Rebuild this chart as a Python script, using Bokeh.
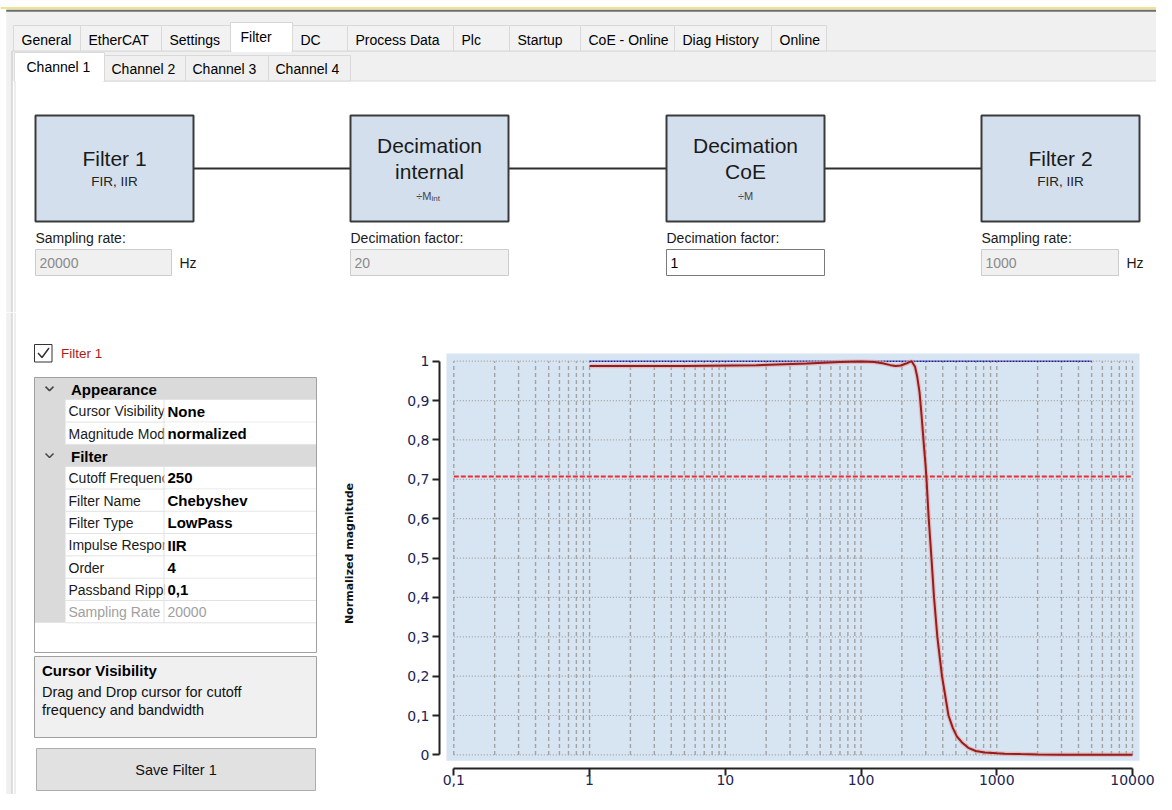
from bokeh.plotting import figure
from bokeh.models import Range1d, FixedTicker
from bokeh.layouts import column, row
from bokeh.core.properties import value
from bokeh.embed import file_html
from bokeh.resources import INLINE

# ---------------- data ----------------
main_tabs = ["General", "EtherCAT", "Settings", "Filter", "DC", "Process Data",
             "Plc", "Startup", "CoE - Online", "Diag History", "Online"]
selected_main_tab = "Filter"
channel_tabs = ["Channel 1", "Channel 2", "Channel 3", "Channel 4"]
selected_channel = "Channel 1"

block_titles = [["Filter 1"], ["Decimation", "internal"], ["Decimation", "CoE"], ["Filter 2"]]
block_subtitles = ["FIR, IIR", "÷M", "÷M", "FIR, IIR"]
block_subscripts = ["", "int", "", ""]
field_labels = ["Sampling rate:", "Decimation factor:", "Decimation factor:", "Sampling rate:"]
field_values = ["20000", "20", "1", "1000"]
field_units = ["Hz", "", "", "Hz"]
field_editable = [False, False, True, False]

filter_checkbox_label = "Filter 1"
grid_names = ["Appearance", "Cursor Visibility", "Magnitude Mode", "Filter", "Cutoff Frequency",
              "Filter Name", "Filter Type", "Impulse Response", "Order", "Passband Ripple",
              "Sampling Rate"]
grid_values = [None, "None", "normalized", None, "250", "Chebyshev", "LowPass", "IIR", "4",
               "0,1", "20000"]
grid_readonly = [False, False, False, False, False, False, False, False, False, False, True]
desc_title = "Cursor Visibility"
desc_lines = ["Drag and Drop cursor for cutoff", "frequency and bandwidth"]
button_label = "Save Filter 1"

x_ticks = [0.1, 1, 10, 100, 1000, 10000]
x_tick_labels = ["0,1", "1", "10", "100", "1000", "10000"]
y_ticks = [0.0, 0.1, 0.2, 0.3, 0.4, 0.5, 0.6, 0.7, 0.8, 0.9, 1.0]
y_tick_labels = ["0", "0,1", "0,2", "0,3", "0,4", "0,5", "0,6", "0,7", "0,8", "0,9", "1"]
y_label = "Normalized magnitude"

freq_hz = [1, 5, 17, 40, 70, 100, 125, 144, 165, 180, 196, 215, 236, 250, 259, 270, 279,
           290, 298, 303, 315, 330, 345, 365, 395, 441, 475, 508, 560, 617, 700, 817, 1000,
           1143, 1500, 2000, 3000, 5000, 10000]
magnitude = [0.988, 0.988, 0.990, 0.994, 0.998, 0.999, 0.998, 0.995, 0.990, 0.988, 0.989,
             0.994, 1.000, 0.986, 0.962, 0.920, 0.864, 0.790, 0.741, 0.707, 0.602, 0.502,
             0.400, 0.300, 0.200, 0.100, 0.068, 0.047, 0.030, 0.018, 0.010, 0.006, 0.004,
             0.003, 0.002, 0.001, 0.0005, 0.0002, 0.0001]
cutoff_level = 0.707
cutoff_span = [0.1, 10000]
unity_level = 1.0
unity_span = [1, 5000]

# ---------------- layout / style ----------------
UI = "Liberation Sans"
CH = "DejaVu Sans"
W, H = 1156, 794
TOP_H = 312
LEFT_W = 322
main_tab_edges = [13, 80, 161, 230, 292, 347, 453, 509, 580, 674, 771, 826]
channel_tab_edges = [14, 104, 185, 268, 350]
block_left = [35, 350, 666, 981]
block_w = 158
input_w = [136, 158, 158, 137]


def canvas(w, h, x0, y0):
    p = figure(width=w, height=h, x_range=Range1d(x0, x0 + w), y_range=Range1d(y0 + h, y0),
               output_backend="svg", toolbar_location=None,
               x_axis_location=None, y_axis_location=None)
    p.min_border_left = p.min_border_right = p.min_border_top = p.min_border_bottom = 0
    p.grid.visible = False
    p.outline_line_color = None
    p.background_fill_color = "white"
    p.border_fill_color = "white"
    return p


def txt(p, x, y, s, size, color="#000000", align="left", style="normal", font=UI):
    p.text(x=[x], y=[y], text=[s], text_font=value(font), text_font_size=f"{size}px",
           text_color=color, text_align=align, text_baseline="middle",
           text_font_style=style)


def box(p, l, r, t, b, fill, line=None, lw=1):
    p.quad(left=[l], right=[r], top=[t], bottom=[b], fill_color=fill,
           line_color=line, line_width=lw)


def seg(p, x0, y0, x1, y1, color, lw=1):
    p.segment(x0=[x0], y0=[y0], x1=[x1], y1=[y1], line_color=color, line_width=lw)


# ================= top area =================
top = canvas(W, TOP_H, 0, 0)
box(top, 0, W, 0, TOP_H, "#F0F0F0")
box(top, 0, W, 0, 6.5, "white")
box(top, 0, 5.7, 0, TOP_H, "white")
seg(top, 0, 7.5, W, 7.5, "#F1E28E", 2)
seg(top, 5.7, 10.2, W, 10.2, "#6E6E6E", 2)
seg(top, 11.5, 50.5, W, 50.5, "#D6D6D6")

for i, name in enumerate(main_tabs):
    l, r = main_tab_edges[i], main_tab_edges[i + 1]
    if name == selected_main_tab:
        box(top, l, r, 22, 51, "white", "#D6D6D6")
        seg(top, l + 1, 50.5, r - 1, 50.5, "white", 2)
        txt(top, l + 10, 36, name, 14)
    else:
        box(top, l, r, 25, 50.5, "#F2F2F2", "#D9D9D9")
        txt(top, l + 8, 39, name, 14)

# channel tab page
box(top, 12, W, 80.5, TOP_H, "white")
seg(top, 11.5, 50.5, 11.5, TOP_H, "#C4C4C4")
seg(top, 14.5, 80.5, 14.5, TOP_H, "#DCDCDC")
seg(top, 104, 80.5, W, 80.5, "#DCDCDC")
for i, name in enumerate(channel_tabs):
    l, r = channel_tab_edges[i], channel_tab_edges[i + 1]
    if name == selected_channel:
        box(top, l, r, 52, 81, "white", "#DCDCDC")
        seg(top, l + 1, 80.5, r - 1, 80.5, "white", 2)
        txt(top, l + 12, 66, name, 14)
    else:
        box(top, l, r, 55, 80.5, "#F0F0F0", "#D9D9D9")
        txt(top, l + 7, 68, name, 14)

# connecting lines
for i in range(3):
    seg(top, block_left[i] + block_w, 168, block_left[i + 1], 168, "#2E2E2E", 2)

for i in range(4):
    l = block_left[i]
    cx = l + block_w / 2
    box(top, l, l + block_w, 115, 221, "#D3DFED", "#3A3A3A", 2)
    lines = block_titles[i]
    if len(lines) == 1:
        txt(top, cx, 158, lines[0], 21, "#1A1A1A", "center")
        txt(top, cx, 181, block_subtitles[i], 13.5, "#222222", "center")
    else:
        txt(top, cx, 145, lines[0], 21, "#1A1A1A", "center")
        txt(top, cx, 171, lines[1], 21, "#1A1A1A", "center")
        if block_subscripts[i]:
            txt(top, cx + 2, 195, block_subtitles[i], 11, "#444444", "right")
            txt(top, cx + 2, 198, block_subscripts[i], 8, "#444444", "left")
        else:
            txt(top, cx, 195, block_subtitles[i], 11, "#444444", "center")
    # field
    txt(top, l, 237, field_labels[i], 14, "#1A1A1A")
    if field_editable[i]:
        box(top, l, l + input_w[i], 249, 275, "white", "#7A7A7A")
        txt(top, l + 4, 262.5, field_values[i], 14, "#000000")
    else:
        box(top, l, l + input_w[i], 249, 275, "#F0F0F0", "#CCCCCC")
        txt(top, l + 4, 262.5, field_values[i], 14, "#8A8A8A")
    if field_units[i]:
        txt(top, l + input_w[i] + 8, 262.5, field_units[i], 14, "#1A1A1A")

# ================= left panel =================
LOW_H = H - TOP_H
left = canvas(LEFT_W, LOW_H, 0, TOP_H)
box(left, 5.7, 11.5, TOP_H, H, "#F0F0F0")
seg(left, 11.5, TOP_H, 11.5, H, "#C4C4C4")
seg(left, 14.5, TOP_H, 14.5, H, "#DCDCDC")

# checkbox
box(left, 34, 51.5, 344, 361.5, "white", "#333333")
left.line(x=[37.5, 41.5, 48.5], y=[352.5, 357, 347.5], line_color="#333333", line_width=1.5)
txt(left, 60.5, 353, filter_checkbox_label, 13.5, "#B01818")

# property grid
g_l, g_r, g_t, g_b = 34, 316, 377, 652
name_l, sep_x = 65, 163.5
rh = 22.3
box(left, g_l, g_r, g_t, g_b, "white", "#A0A0A0")
n_rows = len(grid_names)
box(left, g_l + 0.5, name_l, g_t + 0.5, g_t + n_rows * rh, "#DADADA")
for k in range(n_rows):
    t = g_t + k * rh
    b = t + rh
    cy = t + rh / 2
    if grid_values[k] is None:
        box(left, g_l + 0.5, g_r - 0.5, t + 0.5, b, "#DADADA")
        left.line(x=[45, 49, 53], y=[cy - 2, cy + 2, cy - 2], line_color="#444444", line_width=1.5)
        txt(left, 70.5, cy + 0.5, grid_names[k], 15, "#000000", style="bold")
    else:
        col = "#A0A0A0" if grid_readonly[k] else "#1A1A1A"
        txt(left, 68, cy + 0.5, grid_names[k], 14, col)
        box(left, sep_x + 0.5, g_r - 0.5, t + 0.5, b - 0.5, "white")
        vcol = "#A0A0A0" if grid_readonly[k] else "#000000"
        vstyle = "normal" if grid_readonly[k] else "bold"
        txt(left, 167, cy + 0.5, grid_values[k], 15 if not grid_readonly[k] else 14, vcol, style=vstyle)
        seg(left, name_l, b, g_r - 0.5, b, "#E2E2E2")
        seg(left, sep_x, t, sep_x, b, "#E2E2E2")

# description box
box(left, 34, 316, 656, 737, "#F0F0F0", "#A0A0A0")
txt(left, 41.5, 670, desc_title, 15, "#000000", style="bold")
txt(left, 41.5, 691, desc_lines[0], 14.5, "#111111")
txt(left, 41.5, 709, desc_lines[1], 14.5, "#111111")

# button
box(left, 36, 315, 748, 790, "#E1E1E1", "#ADADAD")
txt(left, 175.5, 769.5, button_label, 14.5, "#111111", "center")

# ================= chart =================
CHART_W = W - LEFT_W
chart = figure(width=CHART_W, height=LOW_H, x_axis_type="log",
               x_range=Range1d(0.078448, 15025), y_range=Range1d(-0.1006, 1.1237),
               output_backend="svg", toolbar_location=None)
chart.min_border_left = 439 - LEFT_W
chart.min_border_right = 0
chart.min_border_top = 0
chart.min_border_bottom = 0
chart.grid.visible = False
chart.outline_line_color = None
chart.background_fill_color = "white"
chart.border_fill_color = "white"

chart.quad(left=[0.08834], right=[11261], bottom=[-0.0147], top=[1.0196],
           fill_color="#D7E4F1", line_color=None)

vgrid = [m * 10.0 ** k for k in range(-1, 4) for m in range(1, 10)] + [10000.0]
chart.segment(x0=vgrid, y0=[0] * len(vgrid), x1=vgrid, y1=[1] * len(vgrid),
              line_color="#A3A3A3", line_dash="4 3", line_width=1.4)
chart.segment(x0=[0.1] * len(y_ticks), y0=y_ticks, x1=[10000] * len(y_ticks), y1=y_ticks,
              line_color="#A3A3A3", line_dash="1 2", line_width=1.2)

chart.line(x=cutoff_span, y=[cutoff_level] * 2, line_color="#EC2C38", line_dash="5 2",
           line_width=2)
chart.line(x=unity_span, y=[unity_level] * 2, line_color="#1A1A99", line_dash="2 1",
           line_width=1.6)
chart.line(x=freq_hz, y=magnitude, line_color="#DDA9A9", line_width=4.5, line_alpha=0.6)
chart.line(x=freq_hz, y=magnitude, line_color="#9A1B1B", line_width=2)

xa = chart.xaxis[0]
xa.ticker = FixedTicker(ticks=x_ticks, minor_ticks=[])
xa.major_label_overrides = dict(zip(x_ticks, x_tick_labels))
xa.bounds = (0.1, 10000)
xa.fixed_location = -0.0343

ya = chart.yaxis[0]
ya.ticker = FixedTicker(ticks=y_ticks, minor_ticks=[])
ya.major_label_overrides = dict(zip(y_ticks, y_tick_labels))
ya.bounds = (0, 1)
ya.axis_label = y_label
ya.axis_label_text_font = CH
ya.axis_label_text_font_size = "11px"
ya.axis_label_text_font_style = "bold"
ya.axis_label_text_color = "#111111"
ya.axis_label_standoff = 48
ya.major_label_standoff = 3

for ax in (xa, ya):
    ax.axis_line_width = 2
    ax.axis_line_color = "#222222"
    ax.major_tick_line_width = 2
    ax.major_tick_line_color = "#222222"
    ax.major_tick_in = 0
    ax.minor_tick_in = 0
    ax.minor_tick_out = 0
    ax.major_label_text_font = CH
    ax.major_label_text_font_size = "14px"
    ax.major_label_text_color = "#1C2453"
ya.major_tick_out = 7
xa.major_tick_out = 7
xa.major_label_standoff = 0

layout = column(top, row(left, chart, spacing=0), spacing=0)
open("out.html", "w").write(file_html(layout, INLINE))
